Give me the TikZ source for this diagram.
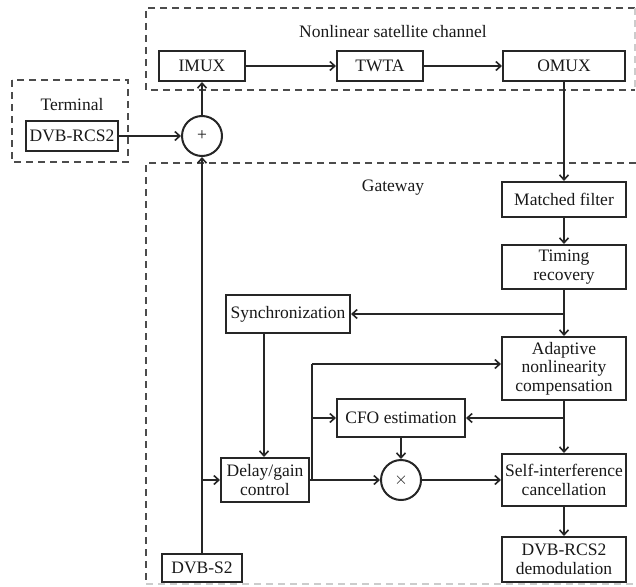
\documentclass[tikz,border=0pt]{standalone}
\usepackage{fontspec}
\setmainfont{Liberation Serif}
\usetikzlibrary{arrows.meta}
\begin{document}
\begin{tikzpicture}[x=1pt,y=-1pt,
  every node/.style={font=\fontsize{17.5}{18.5}\selectfont, text=black!90},
  blk/.style={draw=black!85, line width=2pt, fill=white, inner sep=0pt, align=center},
  op/.style={draw=black!85, line width=2pt, fill=white, circle, inner sep=0pt, minimum size=40pt},
  con/.style={draw=black!85, line width=1.8pt},
  arr/.style={con, -{Straight Barb[length=5pt,width=9pt,line width=1.6pt]}},
  grp/.style={draw=black!70, line width=2pt, dash pattern=on 7pt off 5pt},
  grpl/.style={draw=black!20, line width=1.4pt, dash pattern=on 7pt off 5pt}]
\useasboundingbox (0,0) rectangle (636,586);
% group frames
\draw[grp] (635,8) -- (146,8) -- (146,90) -- (635,90);
\draw[grpl] (635,8) -- (635,90);
\draw[grp] (12,80) rectangle (128,162);
\draw[grp] (636,163) -- (146,163) -- (146,584);
\draw[grpl] (146,584) -- (636,584);
\node at (393,32) {Nonlinear satellite channel};
\node at (393,188) {Gateway};
\node at (72,105) {Terminal};
% blocks
\node[blk, minimum width=86pt, minimum height=30pt] (imux) at (202,66) {IMUX};
\node[blk, minimum width=86pt, minimum height=30pt] (twta) at (380,66) {TWTA};
\node[blk, minimum width=122pt, minimum height=30pt] (omux) at (564,66) {OMUX};
\node[blk, minimum width=92pt, minimum height=30pt] (rcs) at (72,136) {DVB-RCS2};
\node[op] (plus) at (202,136) {+};
\node[blk, minimum width=124pt, minimum height=35pt] (mf) at (564,199.5) {Matched filter};
\node[blk, minimum width=124pt, minimum height=44pt] (tr) at (564,267) {Timing\\recovery};
\node[blk, minimum width=124pt, minimum height=63pt] (anc) at (564,368.5) {Adaptive\\nonlinearity\\compensation};
\node[blk, minimum width=124pt, minimum height=52pt] (sic) at (564,480) {Self-interference\\cancellation};
\node[blk, minimum width=124pt, minimum height=45pt] (demod) at (564,559.5) {DVB-RCS2\\demodulation};
\node[blk, minimum width=124pt, minimum height=38pt] (sync) at (288,314) {Synchronization};
\node[blk, minimum width=128pt, minimum height=38pt] (cfo) at (401,418) {CFO estimation};
\node[blk, minimum width=88pt, minimum height=44pt] (dgc) at (265,480) {Delay/gain\\control};
\node[op] (times) at (401,480) {$\times$};
\node[blk, minimum width=80pt, minimum height=28pt] (dvbs2) at (202,568) {DVB-S2};
% coordinates
\coordinate (b1) at (564,314);
\coordinate (b2) at (564,418);
\coordinate (v1) at (312,480);
\coordinate (v2) at (312,364);
\coordinate (v3) at (312,418);
\coordinate (s1) at (202,480);
\coordinate (sy) at (264,480);
% connectors
\draw[arr] (rcs) -- (plus);
\draw[arr] (plus) -- (imux);
\draw[arr] (imux) -- (twta);
\draw[arr] (twta) -- (omux);
\draw[arr] (omux) -- (mf);
\draw[arr] (mf) -- (tr);
\draw[arr] (tr) -- (anc);
\draw[arr] (b1) -- (sync);
\draw[arr] (anc) -- (sic);
\draw[arr] (b2) -- (cfo);
\draw[arr] (sic) -- (demod);
\draw[arr] (dvbs2) -- (plus);
\draw[arr] (s1) -- (dgc);
\draw[arr] (sync.south -| sy) -- (dgc.north -| sy);
\draw[arr] (dgc) -- (times);
\draw[arr] (times) -- (sic);
\draw[arr] (cfo) -- (times);
\draw[con] (dgc.east |- v1) -- (v1) -- (v2);
\draw[arr] (v2) -- (anc.west |- v2);
\draw[arr] (v3) -- (cfo);
\end{tikzpicture}
\end{document}
